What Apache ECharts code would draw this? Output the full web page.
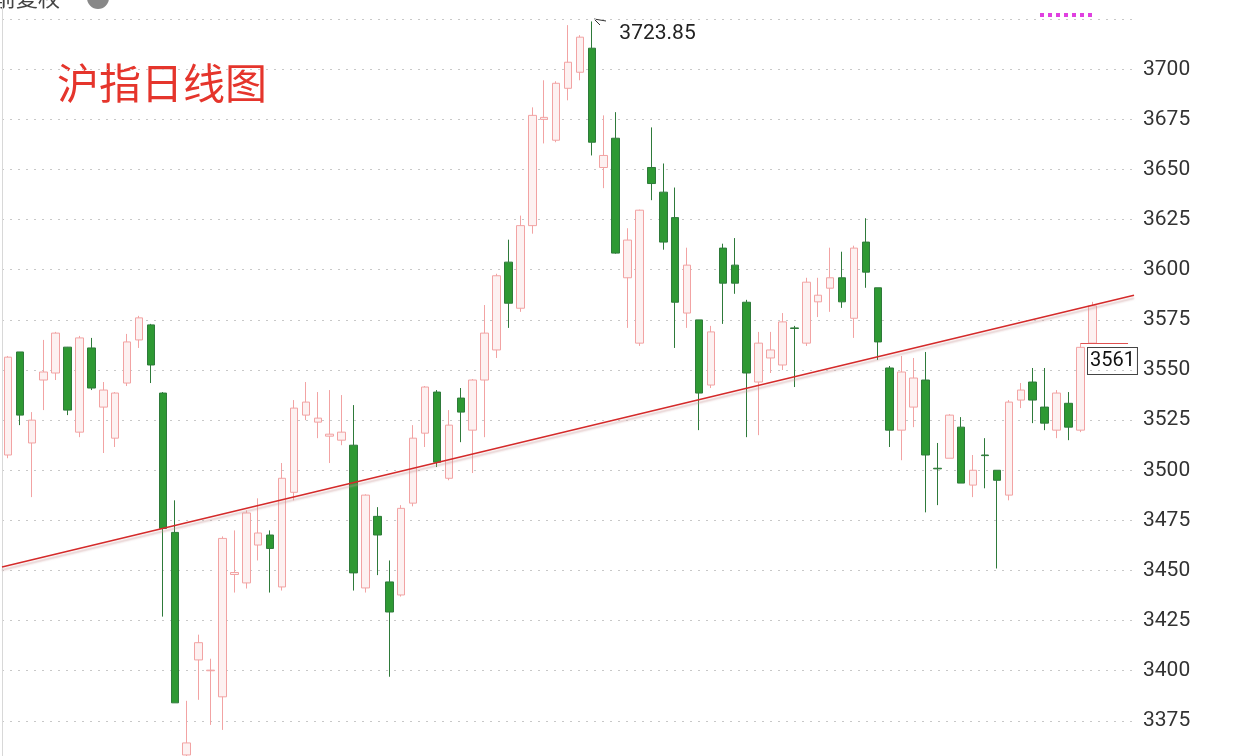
<!DOCTYPE html>
<html>
<head>
    <meta charset="UTF-8">
    <title>沪指日线图</title>
    <style>
        html, body { margin: 0; padding: 0; background: #fff; overflow: hidden; width: 1236px; height: 756px; }
        #chart { width: 1236px; height: 802px; margin-top: -31px; }
    </style>
</head>
<body>
<div id="chart"></div>
<script src="https://cdn.jsdelivr.net/npm/echarts@6/dist/echarts.min.js"></script>
<script>
    // 每根K线: [开, 收, 低, 高]
    var candles = [
        [3507.6, 3556.4, 3506, 3557], [3559, 3527.5, 3522.5, 3559], [3513.6, 3525, 3486.6, 3529],
        [3545, 3549, 3530, 3565], [3548.5, 3568.4, 3545, 3569], [3561.4, 3530, 3527.5, 3561.5],
        [3519, 3566, 3516.5, 3567], [3561, 3541, 3540, 3566], [3531.5, 3540, 3508.6, 3544],
        [3516, 3538.5, 3511.6, 3539], [3543.5, 3564, 3542, 3568], [3565, 3576, 3561, 3577],
        [3572.5, 3552.5, 3543.5, 3573], [3538.5, 3471, 3427, 3539], [3469, 3384, 3384, 3485],
        [3358, 3364, 3352, 3385], [3405.4, 3414, 3385.5, 3418], [3400, 3400.3, 3373, 3406],
        [3387, 3466, 3370.5, 3467], [3448, 3449, 3439, 3470], [3443.8, 3478.7, 3441, 3480],
        [3462.7, 3468.7, 3455, 3486], [3467.7, 3461, 3439, 3470], [3441.8, 3496, 3440, 3503.6],
        [3489, 3531, 3485, 3535], [3527.5, 3534, 3525, 3544], [3524, 3526, 3516, 3539],
        [3517, 3518, 3503.6, 3540], [3515, 3519, 3512.5, 3537.5], [3512.5, 3448.8, 3440, 3532.5],
        [3441.3, 3487.6, 3439, 3488], [3477, 3467.7, 3447.7, 3481.6], [3444.3, 3429.3, 3397, 3455],
        [3437.8, 3481, 3437, 3482.6], [3483.6, 3516, 3482, 3522.5], [3518.5, 3541.5, 3511.6, 3542],
        [3539, 3504, 3501.6, 3540], [3496, 3522.5, 3495, 3530], [3536, 3529, 3514, 3541],
        [3520, 3545, 3498.6, 3545.5], [3545, 3568.4, 3516.5, 3582.4], [3560, 3597, 3556, 3598],
        [3603.8, 3583.3, 3571, 3615], [3580.8, 3622, 3579, 3627], [3622, 3677, 3618, 3681],
        [3675, 3676, 3663, 3694.5], [3664.6, 3693, 3663.6, 3694], [3690.5, 3703.5, 3684.5, 3722],
        [3698.5, 3716, 3694.5, 3717], [3710.5, 3663.6, 3657, 3723.85], [3651, 3657, 3640.7, 3677],
        [3665.6, 3608.3, 3608, 3678.6], [3596, 3614.8, 3571, 3620.7], [3563.4, 3629.7, 3562, 3630],
        [3651, 3643, 3634.7, 3671], [3638.7, 3613.8, 3610, 3653], [3626, 3583.8, 3561, 3641],
        [3578.4, 3602.3, 3571, 3611], [3575, 3538.5, 3520, 3575], [3542.5, 3569, 3541, 3572],
        [3610.8, 3593.3, 3573, 3613], [3602.3, 3593.3, 3588, 3615.8], [3583.8, 3548.5, 3516.5, 3585],
        [3544, 3563.4, 3517.5, 3569], [3556, 3560, 3548.5, 3569], [3552.5, 3574, 3550, 3578.4],
        [3571, 3570.7, 3541.5, 3572], [3563.4, 3593.8, 3562, 3596], [3584, 3587.3, 3576.4, 3596],
        [3590.8, 3596, 3579, 3611], [3596, 3584, 3581, 3609], [3575.8, 3610.8, 3566, 3612],
        [3613.8, 3598.8, 3591, 3625.7], [3591, 3564, 3555, 3591], [3551, 3520, 3511.6, 3552],
        [3520, 3549, 3505, 3557], [3531.5, 3546, 3521.5, 3556], [3545, 3507.6, 3479, 3559],
        [3501, 3500.7, 3482.6, 3513.6], [3506, 3527.5, 3506, 3528], [3521.5, 3493.6, 3493.6, 3526.5],
        [3492.6, 3500, 3486.6, 3507.6], [3507.6, 3507.3, 3491, 3516], [3500, 3495, 3451, 3500],
        [3487.6, 3534, 3485, 3535], [3535, 3540, 3531, 3543.5], [3544, 3535, 3523.5, 3551],
        [3531.5, 3523.5, 3520, 3551], [3520, 3538.5, 3516, 3540], [3533.4, 3521.5, 3515, 3539],
        [3520, 3561.3, 3519, 3563], [3563.4, 3582, 3563, 3584]
    ];
    var padDays = 3;               // 右侧留白
    var trendLine = [[0, 3451.7], [1, 3587.3]];
    var yTicks = {min: 3350, max: 3750, step: 25};
    var lastPrice = '3561';

    var days = [];
    for (var i = 0; i < candles.length + padDays; i++) days.push('D' + (i + 1));

    var dy = 31; // 画布上移的像素
    var chart = echarts.init(document.getElementById('chart'));
    chart.setOption({
        animation: false,
        backgroundColor: '#ffffff',
        grid: {left: 2, right: 102, top: 0, bottom: 0},
        xAxis: [{
            type: 'category', data: days, show: false
        }, {
            type: 'value', min: 0, max: 1, show: false
        }],
        yAxis: {
            type: 'value', position: 'right',
            min: yTicks.min, max: yTicks.max, interval: yTicks.step,
            axisLine: {show: true, lineStyle: {color: '#d8d8d8'}},
            axisTick: {show: false},
            axisLabel: {
                color: '#333', fontSize: 21, margin: 9, fontFamily: 'Roboto',
                formatter: function (v) { return (v >= 3725 || v <= 3350) ? '' : v; }
            },
            splitLine: {lineStyle: {color: '#c8c8c8', type: [2, 6]}}
        },
        series: [{
            type: 'candlestick',
            data: candles,
            barWidth: 8,
            itemStyle: {
                color: '#fdf1f1', borderColor: '#f2a3a3',
                color0: '#2e9933', borderColor0: '#2e7a3a'
            },
            markPoint: {
                symbol: 'circle', symbolSize: 1,
                itemStyle: {color: 'rgba(0,0,0,0)'},
                data: [{type: 'max', valueDim: 'highest'}],
                label: {
                    show: true, position: 'right', offset: [22, 12],
                    color: '#222', fontSize: 21, fontFamily: 'Roboto',
                    formatter: function (p) { return Number(p.value).toFixed(2); }
                }
            },
            markLine: {
                symbol: 'none', silent: true,
                lineStyle: {color: '#e05050', width: 1, type: 'solid'},
                label: {show: false},
                data: [[{coord: [candles.length - 2, 3563.4]}, {coord: [candles.length + padDays - 1, 3563.4]}]]
            }
        }, {
            type: 'line', xAxisIndex: 1, data: trendLine,
            symbol: 'none', silent: true,
            lineStyle: {color: '#d42a2a', width: 1.5, shadowColor: 'rgba(200,150,150,0.6)', shadowOffsetY: 3, shadowBlur: 2}
        }],
        graphic: [{
            type: 'text', left: 57, top: 62 + dy,
            style: {text: '沪指日线图', fill: '#e5352c', fontSize: 42, fontFamily: 'Noto Sans CJK SC'}
        }, {
            type: 'text', left: -6, top: -13 + dy,
            style: {text: '前复权', fill: '#444', fontSize: 22, fontFamily: 'Noto Sans CJK SC'}
        }, {
            type: 'circle', shape: {cx: 98, cy: -2 + dy, r: 11}, style: {fill: '#888'}
        }, {
            type: 'line', shape: {x1: 1040, y1: 15 + dy, x2: 1094, y2: 15 + dy},
            style: {stroke: '#e040e0', lineWidth: 4, lineDash: [4, 4]}
        }, {
            type: 'polyline', shape: {points: [[606, 21 + dy], [594, 19 + dy], [600, 25 + dy]]},
            style: {stroke: '#333', lineWidth: 1, fill: null}
        }, {
            type: 'text', left: 1087, top: 347 + dy,
            style: {
                text: lastPrice, fill: '#111', fontSize: 20, fontFamily: 'Roboto',
                backgroundColor: '#fff', borderColor: '#444', borderWidth: 1, padding: [3, 2, 3, 2]
            }
        }]
    });
</script>
</body>
</html>
